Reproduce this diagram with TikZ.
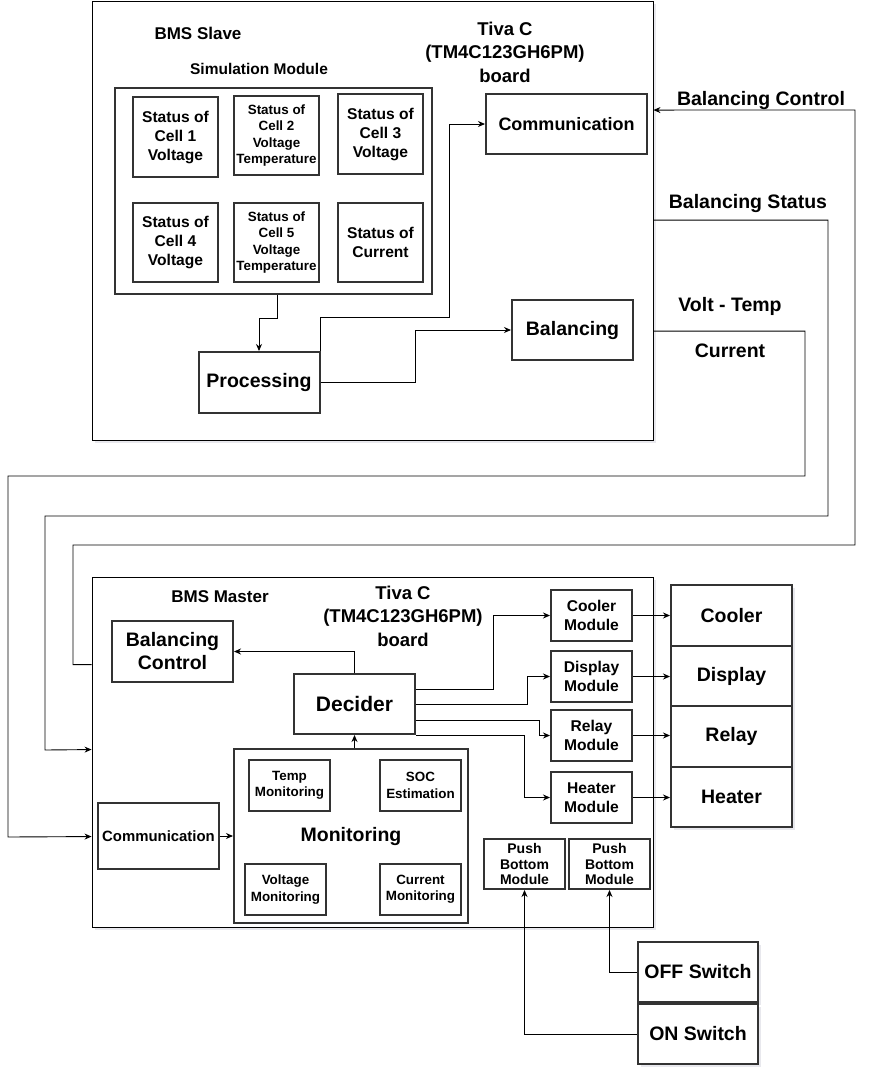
\documentclass[tikz,border=0pt]{standalone}
\usepackage{fontspec}
\setmainfont{Liberation Sans}
\usetikzlibrary{positioning,calc,shadows,arrows.meta}
\tikzset{
  conn/.style={line width=0.9pt, -{Stealth[length=7pt,width=6pt]}},
  box/.style 2 args={minimum width=#1, minimum height=#2},
  blk/.style={draw=black!80, line width=2pt, fill=white, align=center, inner sep=0pt},
  soft/.style={drop shadow={shadow xshift=2.5pt, shadow yshift=-2.5pt, opacity=0.18, fill=blue!20!black!50}},
  outer/.style={draw=black, line width=0.9pt, fill=white, soft},
  dev/.style={blk, soft},
  fbig/.style={font=\fontsize{19.5}{23}\selectfont\bfseries},
  fmid/.style={font=\fontsize{15.6}{19}\selectfont\bfseries},
  fsml/.style={font=\fontsize{13.4}{16.3}\selectfont\bfseries},
  ftiva/.style={font=\fontsize{18.5}{23.5}\selectfont\bfseries, align=center},
}

\begin{document}
\begin{tikzpicture}[x=1pt,y=-1pt]
\useasboundingbox (0,0) rectangle (876,1077);
% BMS slave
\node[outer, box={561pt}{439pt}] (slave) at (372.5,220.5) {};
\node[font=\fontsize{17}{20}\selectfont\bfseries] (slavettl) at (198,33) {BMS Slave};
\node[ftiva] (stiva) at (505,52) {Tiva C\\(TM4C123GH6PM)\\board};
\node[font=\fontsize{15.5}{19}\selectfont\bfseries] (simttl) at (259,69) {Simulation Module};
\node[blk, box={317pt}{206pt}] (sim) at (273.5,191) {};
\node[blk, fmid, box={85pt}{80pt}] (cell1) at (175.5,137) {Status of\\Cell 1\\Voltage};
\node[blk, fsml, box={85pt}{79pt}] (cell2) at (276.5,135.5) {Status of\\Cell 2\\Voltage\\Temperature};
\node[blk, fmid, box={85pt}{80pt}] (cell3) at (380.5,134) {Status of\\Cell 3\\Voltage};
\node[blk, fmid, box={85pt}{79pt}] (cell4) at (175.5,242.5) {Status of\\Cell 4\\Voltage};
\node[blk, fsml, box={85pt}{79pt}] (cell5) at (276.5,242.5) {Status of\\Cell 5\\Voltage\\Temperature};
\node[blk, fmid, box={85pt}{79pt}] (cell6) at (380.5,242.5) {Status of\\Current};
\node[blk, fbig, box={121pt}{61pt}] (proc) at (259,382.5) {Processing};
\node[blk, font=\fontsize{18}{21}\selectfont\bfseries, box={161pt}{60pt}] (scomm) at (566.5,124) {Communication};
\node[blk, fbig, box={121pt}{60pt}] (bal) at (572.5,330) {Balancing};

\draw[conn] ($(sim.south)+(3.5,0)$) -- ++(0,23) -| (proc.north);
\draw[conn] (proc.north east) -- ++(0,-34) -| ($(scomm.west)+(-36,0)$) -- (scomm.west);
\draw[conn] (proc.east) -| ($(bal.west)+(-96,0)$) -- (bal.west);

% BMS master
\node[outer, box={561pt}{350pt}] (master) at (372.5,752) {};
\node[font=\fontsize{17}{20}\selectfont\bfseries] (masterttl) at (220,597) {BMS Master};
\node[ftiva] (mtiva) at (403,616) {Tiva C\\(TM4C123GH6PM)\\board};
\node[blk, fbig, box={121pt}{61pt}] (balctl) at (172.5,651.5) {Balancing\\Control};
\node[blk, font=\fontsize{21}{25}\selectfont\bfseries, box={121pt}{60pt}] (decider) at (354.5,704) {Decider};
\node[blk, fbig, box={234pt}{174pt}] (mon) at (351,836) {Monitoring};
\node[blk, fsml, box={81pt}{51pt}] (tempm) at (289.5,785.5) {Temp\\Monitoring};
\node[blk, fsml, box={81pt}{51pt}] (socm) at (420.5,785.5) {SOC\\Estimation};
\node[blk, fsml, box={81pt}{51pt}] (voltm) at (285.5,889.5) {Voltage\\Monitoring};
\node[blk, fsml, box={81pt}{51pt}] (curm) at (420.5,889.5) {Current\\Monitoring};
\node[blk, font=\fontsize{14.9}{18}\selectfont\bfseries, box={121pt}{66pt}] (mcomm) at (158.5,836) {Communication};
\node[blk, fmid, box={81pt}{51pt}] (coolm) at (591.5,615.5) {Cooler\\Module};
\node[blk, fmid, box={81pt}{51pt}] (dispm) at (591.5,676.5) {Display\\Module};
\node[blk, fmid, box={81pt}{51pt}] (relm) at (591.5,735.5) {Relay\\Module};
\node[blk, fmid, box={81pt}{51pt}] (heatm) at (591.5,797.5) {Heater\\Module};
\node[blk, font=\fontsize{14}{15.8}\selectfont\bfseries, box={81pt}{50pt}] (pb1) at (524.5,864) {Push\\Bottom\\Module};
\node[blk, font=\fontsize{14}{15.8}\selectfont\bfseries, box={81pt}{50pt}] (pb2) at (609.5,864) {Push\\Bottom\\Module};

% devices
\node[dev, fbig, box={121pt}{61pt}] (cooler) at (731.5,615.5) {Cooler};
\node[dev, fbig, box={121pt}{60pt}] (display) at (731.5,676) {Display};
\node[dev, fbig, box={121pt}{61pt}] (relay) at (731.5,736.5) {Relay};
\node[dev, fbig, box={121pt}{60pt}] (heater) at (731.5,797) {Heater};
\node[dev, fbig, box={120pt}{60pt}] (offsw) at (698,972) {OFF Switch};
\node[dev, fbig, box={120pt}{60pt}] (onsw) at (698,1034) {ON Switch};

\draw[conn] (decider.north) |- (balctl.east);
\draw[conn] (decider.south |- mon.north) -- (decider.south);
\draw[conn] (mcomm.east) -- (mon.west);
\draw[conn] ($(decider.east)+(0,-15)$) -| ($(coolm.west)+(-57,0)$) -- (coolm.west);
\draw[conn] (decider.east) -| ($(dispm.west)+(-23,0)$) -- (dispm.west);
\draw[conn] ($(decider.east)+(0,16)$) -| ($(relm.west)+(-11,0)$) -- (relm.west);
\draw[conn] (decider.south east) -| ($(heatm.west)+(-26,0)$) -- (heatm.west);
\foreach \m/\d in {coolm/cooler, dispm/display, relm/relay, heatm/heater}
  \draw[conn] (\m.east) -- (\d.west |- \m.east);
\draw[conn] (offsw.west) -| (pb2.south);
\draw[conn] (onsw.west) -| (pb1.south);

% links between slave and master
\node[fbig] (lbctl) at (761,100) {Balancing Control};
\node[fbig] (lbstat) at (748,203) {Balancing Status};
\node[fbig] (lvt) at (730,306) {Volt - Temp};
\node[fbig] (lcur) at (730,351) {Current};
\draw[conn] ($(master.north west)+(0,88)$) -| (73,545) -| (855,110) -- ($(slave.north east)+(0,109.5)$);
\draw[conn] ($(slave.north east)+(0,219.5)$) -| (828,516) -| (45,750) -- ($(master.north west)+(0,173)$);
\draw[conn] ($(slave.north east)+(0,330.5)$) -| (805,476) -| (8,837) -- ($(master.north west)+(0,260)$);
\end{tikzpicture}
\end{document}
